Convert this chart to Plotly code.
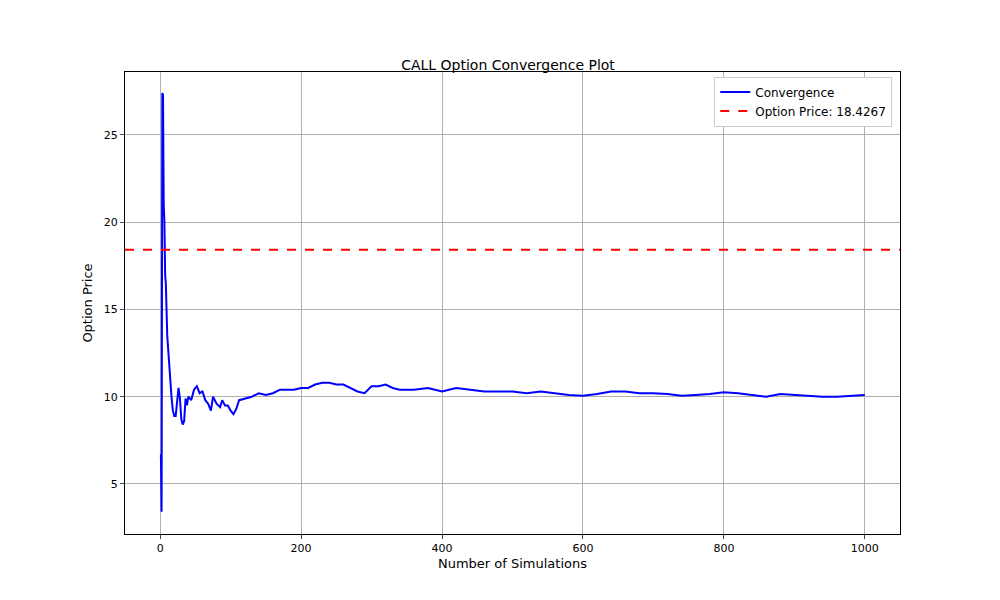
import plotly.graph_objects as go

# simulation counts and running option price estimate
sims = [1, 2, 3, 4, 5, 6, 7, 8, 10, 13, 16, 18, 20, 22, 24, 26, 28, 30, 32, 34, 36, 38, 40,
        44, 48, 52, 56, 60, 64, 68, 72, 75, 80, 85, 88, 92, 96, 100, 104, 108, 112, 120,
        130, 140, 150, 160, 170, 180, 190, 200, 210, 220, 230, 240, 250, 260, 270, 280,
        290, 300, 310, 320, 330, 340, 360, 380, 400, 420, 440, 460, 480, 500, 520, 540,
        560, 580, 600, 620, 640, 660, 680, 700, 720, 740, 760, 780, 800, 820, 840, 860,
        880, 900, 920, 940, 960, 980, 1000]
prices = [6.7, 3.4, 27.4, 27.3, 21.0, 20.0, 17.0, 16.5, 13.5, 11.5, 10.0, 9.2, 8.9, 8.9,
          9.8, 10.5, 9.9, 8.7, 8.4, 8.6, 9.9, 9.5, 10.0, 9.8, 10.4, 10.6, 10.2, 10.3, 9.8,
          9.6, 9.2, 10.0, 9.6, 9.4, 9.8, 9.5, 9.5, 9.2, 9.0, 9.3, 9.8, 9.9, 10.0, 10.2,
          10.1, 10.2, 10.4, 10.4, 10.4, 10.5, 10.5, 10.7, 10.8, 10.8, 10.7, 10.7, 10.5,
          10.3, 10.2, 10.6, 10.6, 10.7, 10.5, 10.4, 10.4, 10.5, 10.3, 10.5, 10.4, 10.3,
          10.3, 10.3, 10.2, 10.3, 10.2, 10.1, 10.05, 10.15, 10.3, 10.3, 10.2, 10.2, 10.15,
          10.05, 10.1, 10.15, 10.25, 10.2, 10.1, 10.0, 10.15, 10.1, 10.05, 10.0, 10.0,
          10.05, 10.1]
option_price = 18.4267

fig = go.Figure()
fig.add_trace(go.Scatter(x=sims, y=prices, mode="lines", name="Convergence",
                         line=dict(color="blue", width=2)))
fig.add_trace(go.Scatter(x=[-49.95, 1049.95], y=[option_price, option_price], mode="lines",
                         name=f"Option Price: {option_price}",
                         line=dict(color="red", width=2, dash="dash")))

axis_style = dict(showgrid=True, gridcolor="#b0b0b0", gridwidth=1, showline=True,
                  linecolor="black", mirror=True, ticks="outside", ticklen=4,
                  zeroline=False, tickfont=dict(size=11, color="black"))

fig.update_layout(
    width=1000, height=600,
    font=dict(family="DejaVu Sans", size=11, color="black"),
    title=dict(text="CALL Option Convergence Plot", x=0.5, xanchor="center",
               y=0.905, yanchor="middle", font=dict(size=14)),
    plot_bgcolor="white", paper_bgcolor="white",
    margin=dict(l=117, r=108, t=64, b=74),
    xaxis=dict(title=dict(text="Number of Simulations", standoff=4),
               range=[-49.95, 1049.95], tickvals=[0, 200, 400, 600, 800, 1000], **axis_style),
    yaxis=dict(title=dict(text="Option Price", standoff=8),
               range=[2.13, 28.61], tickvals=[5, 10, 15, 20, 25], **axis_style),
    legend=dict(x=0.99, y=0.99, xanchor="right", yanchor="top", bgcolor="white",
                bordercolor="#cccccc", borderwidth=1, font=dict(size=12)),
)

fig.write_html("out.html")
